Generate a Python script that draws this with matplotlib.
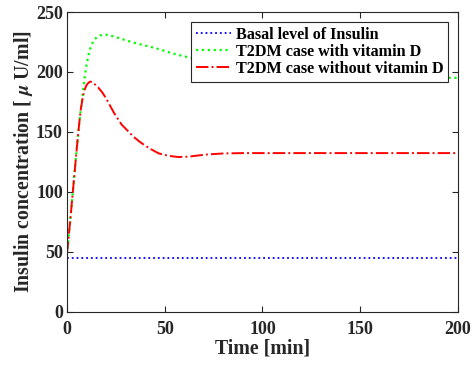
import numpy as np
import matplotlib
matplotlib.use("Agg")
import matplotlib.pyplot as plt

plt.rcParams["font.family"] = ["Liberation Serif", "DejaVu Serif"]
plt.rcParams["font.weight"] = "bold"
plt.rcParams["mathtext.fontset"] = "stix"

# Basal insulin level
t_basal = [0, 200]
insulin_basal = [45, 45]

# T2DM with vitamin D
t_vitd = [0, 1, 2, 3, 4, 5, 6, 7, 8, 9, 10, 11, 12, 13, 14, 16, 18, 20, 22, 25,
          30, 35, 40, 45, 50, 55, 60, 70, 80, 90, 100, 120, 140, 160, 180, 200]
insulin_vitd = [48, 65, 82, 100, 118, 136, 153, 168, 181, 195, 206, 214, 220, 224, 227, 230, 231, 231, 230.5, 229,
                226.5, 224, 222, 220, 217.5, 215, 213, 209, 206, 204, 202, 199, 197.5, 196.5, 195.5, 195]

# T2DM without vitamin D
t_novitd = [0, 1, 2, 3, 4, 5, 6, 7, 8, 9, 10, 11, 12, 13, 14, 16, 18, 20, 22, 24, 26, 28, 31, 34, 37, 40,
            43, 47, 52, 57, 62, 67, 72, 80, 90, 100, 120, 150, 200]
insulin_novitd = [48, 65, 82, 100, 118, 136, 153, 168, 178, 185, 189, 191, 192, 191.5, 190, 187, 183, 178, 172,
                  166, 161, 156, 151, 146, 142, 138.5, 135.5, 132, 130, 129, 129.3, 130.3, 131.2, 132, 132.3,
                  132.3, 132.3, 132.3, 132.3]

fig = plt.figure(figsize=(4.73, 3.67), dpi=100)
ax = fig.add_axes([0.1416, 0.1507, 0.8267, 0.8166])

ax.plot(t_basal, insulin_basal, color="blue", linestyle=":", lw=1.3, label="Basal level of Insulin")
ax.plot(t_vitd, insulin_vitd, color="#00ff00", linestyle=":", lw=1.6, label="T2DM case with vitamin D")
ax.plot(t_novitd, insulin_novitd, color="red", linestyle="-.", lw=1.4, label="T2DM case without vitamin D")

ax.set_xlim(0, 200)
ax.set_ylim(0, 250)
ax.set_xticks([0, 50, 100, 150, 200])
ax.set_yticks([0, 50, 100, 150, 200, 250])
ax.tick_params(direction="in", top=True, right=True, labelsize=13, colors="#262626", length=4.5, width=0.8)
ax.tick_params(axis="x", pad=7)
ax.tick_params(axis="y", pad=3)
for s in ax.spines.values():
    s.set_color("#262626")
    s.set_linewidth(0.8)
for lab in ax.get_xticklabels() + ax.get_yticklabels():
    lab.set_fontweight("bold")

ax.set_xlabel("Time [min]", fontsize=14.3, fontweight="bold", color="#262626", labelpad=0)
ax.set_ylabel("Insulin concentration [ $\\mu$ U/ml]", fontsize=14.3, fontweight="bold", color="#262626",
              labelpad=1)

leg = ax.legend(loc="upper right", fontsize=11.6, fancybox=False, framealpha=1, edgecolor="#262626",
                borderpad=0.3, labelspacing=0.08, handlelength=2.2, handletextpad=0.3, borderaxespad=0.6)
leg.get_frame().set_linewidth(0.8)
for txt in leg.get_texts():
    txt.set_fontweight("bold")
    txt.set_color("black")

fig.savefig("out.png", dpi=100)
